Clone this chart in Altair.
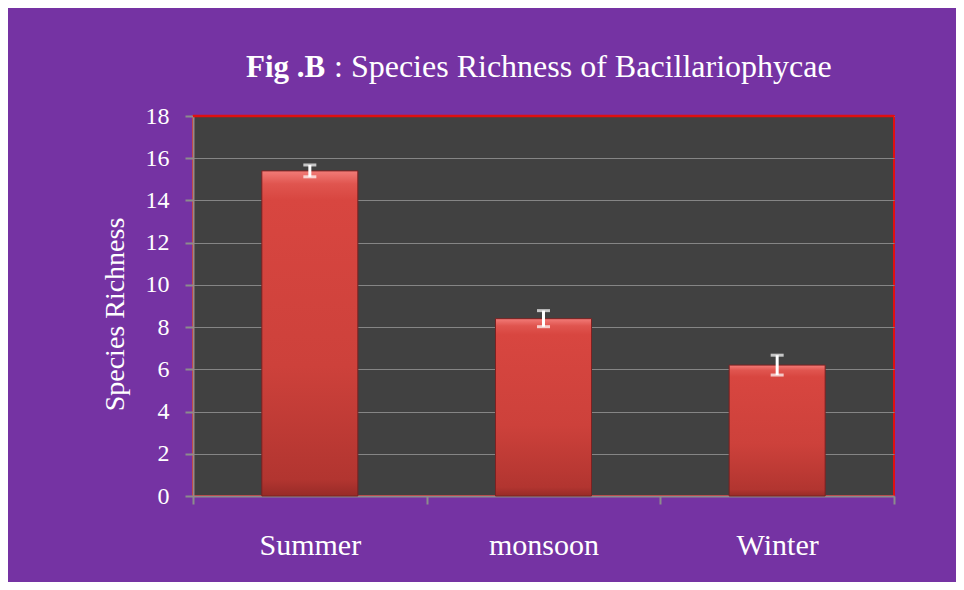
import altair as alt
import pandas as pd

seasons = ["Summer", "monsoon", "Winter"]
richness = [15.4, 8.4, 6.2]
errors = [0.28, 0.38, 0.47]
y_ticks = [0, 2, 4, 6, 8, 10, 12, 14, 16, 18]
y_max = 18
title_bold = ["Fig .B"]
title_rest = [": Species Richness of Bacillariophycae"]

df = pd.DataFrame({
    "season": seasons,
    "value": richness,
    "lo": [v - e for v, e in zip(richness, errors)],
    "hi": [v + e for v, e in zip(richness, errors)],
})

FONT = "Liberation Serif"

x_enc = alt.X(
    "season:N", sort=seasons,
    scale=alt.Scale(paddingInner=0, paddingOuter=0),
    axis=alt.Axis(
        title=None, labelAngle=0, labelFont=FONT, labelFontSize=30, labelColor="white",
        labelBaseline="alphabetic", labelPadding=50, tickBand="extent", tickSize=8,
        tickColor="#8c8c8c", tickWidth=2, domainColor="#8c8c8c", domainWidth=2,
        grid=False,
    ),
)
y_scale = alt.Scale(domain=[0, y_max], nice=False)
y_axis = alt.Axis(
    values=y_ticks, title="Species Richness", titleFont=FONT, titleFontSize=28,
    titleFontWeight="normal", titleColor="white", titleAngle=-90, titleX=-70, titleY=198,
    titleAlign="center", titleBaseline="alphabetic",
    labelFont=FONT, labelFontSize=24, labelColor="white", labelPadding=16,
    tickSize=8, tickColor="#8c8c8c", tickWidth=2,
    domainColor="#9a8888", domainWidth=2,
    grid=True, gridColor="#858585", gridWidth=1.2,
)

bar_fill = alt.LinearGradient(
    gradient="linear", x1=0, x2=0, y1=0, y2=1,
    stops=[
        alt.GradientStop(color="#f27c78", offset=0),
        alt.GradientStop(color="#e0554f", offset=0.04),
        alt.GradientStop(color="#d84640", offset=0.09),
        alt.GradientStop(color="#cd413b", offset=0.6),
        alt.GradientStop(color="#b23530", offset=0.95),
        alt.GradientStop(color="#982b27", offset=1),
    ],
)

base = alt.Chart(df)
bars = base.mark_bar(color=bar_fill, size=96, stroke="#7a2222", strokeWidth=1).encode(
    x=x_enc,
    y=alt.Y("value:Q", scale=y_scale, axis=y_axis),
)
err = base.mark_rule(color="white", strokeWidth=3).encode(
    x=alt.X("season:N", sort=seasons),
    y="lo:Q", y2="hi:Q",
)
cap_lo = base.mark_tick(color="white", size=13, thickness=3, orient="horizontal").encode(
    x=alt.X("season:N", sort=seasons), y="lo:Q")
cap_hi = base.mark_tick(color="white", size=13, thickness=3, orient="horizontal").encode(
    x=alt.X("season:N", sort=seasons), y="hi:Q")

top_border = alt.Chart(pd.DataFrame({"t": ["top"]})).mark_rule(
    color="#e01010", strokeWidth=2.5
).encode(y=alt.datum(y_max))

t1 = alt.Chart(pd.DataFrame({"t": title_bold})).mark_text(
    font=FONT, fontSize=31, fontWeight="bold", color="white", align="left", baseline="alphabetic"
).encode(text="t:N", x=alt.value(53), y=alt.value(-39))
t2 = alt.Chart(pd.DataFrame({"t": title_rest})).mark_text(
    font=FONT, fontSize=32, color="white", align="left", baseline="alphabetic"
).encode(text="t:N", x=alt.value(141), y=alt.value(-39))

chart = alt.layer(bars, err, cap_lo, cap_hi, top_border, t1, t2).properties(
    width=701, height=380,
    autosize=alt.AutoSizeParams(type="none"),
    padding={"left": 185, "top": 108, "right": 62, "bottom": 86},
    background="#7533a3",
).configure_view(
    fill="#414141", stroke="#e01010", strokeWidth=2,
)

chart.save("out.html", embed_options={"renderer": "svg", "actions": False})
